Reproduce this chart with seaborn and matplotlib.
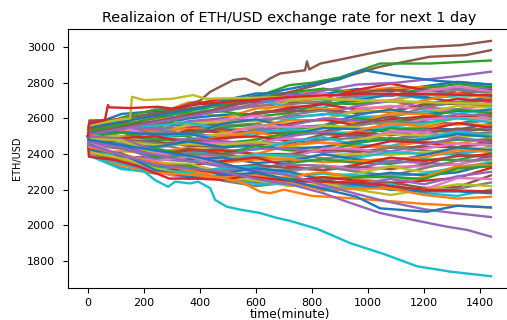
import matplotlib
matplotlib.use("Agg")
import matplotlib.pyplot as plt
import seaborn as sns
import pandas as pd

# Simulated ETH/USD paths over the next 1440 minutes
start_price = 2500
band_minutes = [0, 5, 120, 240, 360, 480, 600, 720, 840, 960, 1080, 1200,
                1320, 1439]

band_at_5 = [
    2560, 2590, 2540, 2575, 2520, 2585, 2500, 2550, 2530, 2570,
    2510, 2545, 2490, 2565, 2525, 2480, 2555, 2505, 2470, 2535,
    2515, 2460, 2545, 2495, 2520, 2450, 2530, 2485, 2505, 2440,
    2525, 2475, 2500, 2430, 2515, 2465, 2495, 2420, 2510, 2455,
    2490, 2410, 2480, 2445, 2500, 2400, 2470, 2435, 2485, 2395,
    2460, 2425, 2475, 2390, 2450, 2415, 2465, 2400, 2440, 2405,
    2455, 2392, 2430, 2398, 2420, 2385, 2445, 2395, 2410, 2390,
    2425, 2400,
]
band_at_120 = [
    2625, 2585, 2605, 2557, 2600, 2597, 2565, 2535, 2580, 2560,
    2565, 2597, 2495, 2577, 2497, 2565, 2527, 2547, 2460, 2552,
    2487, 2525, 2552, 2467, 2540, 2430, 2550, 2492, 2502, 2440,
    2522, 2447, 2520, 2490, 2457, 2477, 2432, 2475, 2470, 2457,
    2440, 2415, 2440, 2452, 2485, 2375, 2450, 2377, 2477, 2372,
    2445, 2367, 2432, 2355, 2440, 2402, 2392, 2375, 2365, 2397,
    2387, 2371, 2355, 2354, 2355, 2377, 2397, 2322, 2375, 2315,
    2402, 2337,
]
band_at_240 = [
    2640, 2620, 2650, 2600, 2610, 2630, 2590, 2570, 2620, 2580,
    2560, 2600, 2540, 2570, 2530, 2580, 2520, 2550, 2500, 2560,
    2490, 2530, 2510, 2480, 2540, 2470, 2500, 2520, 2460, 2490,
    2510, 2450, 2480, 2500, 2440, 2470, 2430, 2460, 2450, 2420,
    2440, 2410, 2430, 2400, 2420, 2390, 2410, 2380, 2400, 2370,
    2390, 2360, 2380, 2350, 2370, 2340, 2360, 2330, 2350, 2320,
    2340, 2310, 2330, 2300, 2320, 2310, 2300, 2290, 2320, 2300,
    2310, 2295,
]
band_at_360 = [
    2640, 2690, 2655, 2675, 2605, 2655, 2610, 2635, 2640, 2615,
    2600, 2570, 2625, 2565, 2585, 2550, 2560, 2540, 2570, 2575,
    2510, 2540, 2500, 2535, 2510, 2525, 2480, 2510, 2475, 2515,
    2515, 2455, 2480, 2465, 2490, 2445, 2465, 2420, 2455, 2405,
    2470, 2435, 2395, 2420, 2375, 2430, 2385, 2405, 2360, 2370,
    2370, 2385, 2385, 2335, 2360, 2300, 2385, 2310, 2345, 2295,
    2320, 2290, 2335, 2320, 2275, 2295, 2260, 2305, 2285, 2300,
    2270, 2285,
]
band_at_480 = [
    2700, 2690, 2680, 2710, 2650, 2670, 2660, 2640, 2610, 2690,
    2620, 2600, 2640, 2580, 2600, 2570, 2590, 2560, 2580, 2540,
    2570, 2530, 2550, 2520, 2500, 2540, 2510, 2490, 2520, 2480,
    2470, 2500, 2460, 2490, 2470, 2440, 2460, 2430, 2450, 2420,
    2440, 2410, 2400, 2420, 2390, 2400, 2380, 2390, 2370, 2360,
    2380, 2350, 2340, 2360, 2330, 2320, 2340, 2310, 2300, 2320,
    2290, 2300, 2280, 2290, 2270, 2260, 2280, 2250, 2270, 2260,
    2280, 2265,
]
band_at_600 = [
    2740, 2680, 2717, 2690, 2720, 2705, 2665, 2670, 2625, 2710,
    2625, 2655, 2610, 2625, 2590, 2635, 2615, 2570, 2585, 2540,
    2595, 2550, 2565, 2520, 2535, 2515, 2560, 2535, 2490, 2520,
    2460, 2525, 2480, 2500, 2460, 2455, 2460, 2470, 2470, 2425,
    2445, 2400, 2445, 2400, 2430, 2370, 2385, 2380, 2400, 2400,
    2350, 2370, 2315, 2380, 2325, 2340, 2295, 2315, 2280, 2330,
    2320, 2265, 2280, 2240, 2290, 2245, 2275, 2220, 2250, 2232,
    2295, 2280,
]
band_at_720 = [
    2740, 2720, 2745, 2700, 2730, 2690, 2710, 2680, 2700, 2660,
    2650, 2670, 2630, 2660, 2610, 2640, 2590, 2620, 2570, 2600,
    2550, 2590, 2540, 2570, 2560, 2520, 2550, 2530, 2500, 2540,
    2510, 2480, 2520, 2470, 2500, 2460, 2490, 2450, 2440, 2470,
    2430, 2450, 2420, 2400, 2430, 2390, 2380, 2400, 2370, 2390,
    2360, 2370, 2350, 2330, 2340, 2320, 2300, 2310, 2290, 2280,
    2300, 2270, 2260, 2250, 2240, 2250, 2230, 2240, 2220, 2235,
    2250, 2245,
]
band_at_840 = [
    2737, 2765, 2767, 2710, 2735, 2687, 2740, 2695, 2715, 2660,
    2680, 2650, 2685, 2680, 2620, 2645, 2590, 2645, 2595, 2625,
    2560, 2590, 2555, 2595, 2600, 2525, 2555, 2515, 2560, 2520,
    2545, 2480, 2515, 2480, 2525, 2510, 2460, 2480, 2430, 2495,
    2440, 2465, 2415, 2420, 2410, 2430, 2430, 2375, 2395, 2355,
    2400, 2355, 2370, 2310, 2335, 2310, 2335, 2330, 2270, 2290,
    2255, 2300, 2255, 2270, 2210, 2240, 2220, 2255, 2235, 2205,
    2250, 2195,
]
band_at_960 = [
    2765, 2750, 2740, 2760, 2720, 2745, 2700, 2730, 2690, 2710,
    2700, 2660, 2680, 2650, 2670, 2630, 2650, 2600, 2640, 2610,
    2620, 2580, 2600, 2560, 2590, 2570, 2540, 2560, 2550, 2520,
    2540, 2530, 2500, 2520, 2490, 2510, 2470, 2490, 2480, 2450,
    2470, 2440, 2460, 2430, 2420, 2410, 2430, 2390, 2400, 2380,
    2370, 2360, 2350, 2340, 2320, 2330, 2310, 2300, 2290, 2280,
    2270, 2260, 2270, 2250, 2230, 2220, 2240, 2210, 2200, 2215,
    2230, 2205,
]
band_at_1080 = [
    2752, 2772, 2725, 2795, 2727, 2762, 2700, 2732, 2697, 2740,
    2735, 2660, 2695, 2635, 2700, 2642, 2670, 2605, 2640, 2610,
    2650, 2627, 2580, 2595, 2560, 2610, 2557, 2585, 2530, 2552,
    2527, 2572, 2545, 2505, 2522, 2482, 2530, 2485, 2512, 2445,
    2480, 2440, 2490, 2472, 2415, 2435, 2400, 2440, 2395, 2410,
    2357, 2375, 2345, 2380, 2360, 2315, 2330, 2280, 2330, 2275,
    2295, 2240, 2270, 2235, 2260, 2240, 2200, 2210, 2170, 2232,
    2200, 2207,
]
band_at_1200 = [
    2780, 2775, 2770, 2760, 2755, 2740, 2750, 2725, 2735, 2710,
    2720, 2700, 2690, 2680, 2660, 2675, 2650, 2660, 2630, 2640,
    2620, 2625, 2600, 2610, 2590, 2580, 2595, 2570, 2560, 2575,
    2545, 2555, 2540, 2530, 2535, 2515, 2520, 2500, 2505, 2490,
    2480, 2470, 2460, 2465, 2450, 2440, 2430, 2420, 2410, 2400,
    2395, 2380, 2370, 2360, 2350, 2340, 2330, 2320, 2300, 2290,
    2280, 2270, 2260, 2250, 2230, 2210, 2200, 2190, 2200, 2180,
    2190, 2170,
]
band_at_1320 = [
    2805, 2768, 2792, 2740, 2765, 2734, 2780, 2758, 2715, 2729,
    2690, 2741, 2687, 2709, 2650, 2683, 2647, 2694, 2670, 2626,
    2642, 2601, 2650, 2606, 2622, 2569, 2602, 2566, 2602, 2601,
    2537, 2568, 2517, 2574, 2527, 2543, 2497, 2514, 2492, 2526,
    2512, 2459, 2480, 2438, 2492, 2439, 2460, 2406, 2427, 2398,
    2437, 2421, 2367, 2388, 2340, 2396, 2342, 2363, 2305, 2326,
    2297, 2333, 2320, 2266, 2275, 2215, 2265, 2205, 2230, 2165,
    2190, 2150,
]
band_at_1439 = [
    2790, 2782, 2775, 2770, 2765, 2758, 2750, 2742, 2735, 2728,
    2720, 2712, 2705, 2698, 2690, 2682, 2675, 2668, 2660, 2652,
    2645, 2638, 2630, 2622, 2615, 2608, 2600, 2592, 2585, 2578,
    2570, 2562, 2555, 2548, 2540, 2532, 2525, 2518, 2510, 2502,
    2495, 2488, 2480, 2472, 2465, 2458, 2450, 2442, 2435, 2427,
    2420, 2412, 2405, 2397, 2390, 2382, 2375, 2367, 2360, 2352,
    2345, 2337, 2330, 2322, 2300, 2280, 2260, 2240, 2220, 2200,
    2180, 2160,
]

# Paths that leave the main band
low_cyan_min = [0, 3, 60, 186, 239, 286, 311, 364, 393, 436, 454, 496, 550,
                614, 675, 721, 818, 936, 1054, 1175, 1293, 1439]
low_cyan_val = [2500, 2395, 2370, 2320, 2254, 2216, 2245, 2235, 2245, 2209,
                2142, 2104, 2086, 2069, 2041, 2025, 1980, 1900, 1840, 1770,
                1740, 1714]
low_red_min = [0, 3, 100, 190, 290, 380, 480, 560, 720, 960, 1200, 1439]
low_red_val = [2500, 2385, 2365, 2325, 2262, 2262, 2255, 2275, 2250, 2240,
               2200, 2190]
low_orange_min = [0, 3, 300, 550, 614, 650, 700, 800, 960, 1200, 1439]
low_orange_val = [2500, 2440, 2330, 2240, 2189, 2180, 2200, 2165, 2150, 2120,
                  2100]
low_purple_min = [0, 3, 240, 480, 600, 732, 840, 925, 1043, 1161, 1282, 1354,
                  1439]
low_purple_val = [2500, 2450, 2340, 2300, 2260, 2226, 2180, 2132, 2069, 2030,
                  1992, 1974, 1936]
low_purple2_min = [0, 3, 360, 720, 900, 1043, 1200, 1300, 1439]
low_purple2_val = [2500, 2470, 2360, 2280, 2200, 2142, 2090, 2070, 2046]
low_blue_min = [0, 3, 400, 700, 850, 960, 1043, 1211, 1320, 1439]
low_blue_val = [2500, 2480, 2380, 2260, 2200, 2160, 2095, 2076, 2110, 2100]

top_brown_min = [0, 3, 240, 400, 436, 518, 560, 614, 650, 686, 775, 782, 790,
                 830, 900, 1007, 1104, 1221, 1330, 1439]
top_brown_val = [2500, 2540, 2620, 2700, 2749, 2815, 2824, 2787, 2824, 2852,
                 2870, 2920, 2875, 2908, 2930, 2965, 2993, 3002, 3011, 3035]
top_brown2_min = [0, 3, 300, 600, 800, 1043, 1221, 1350, 1439]
top_brown2_val = [2500, 2520, 2600, 2700, 2780, 2890, 2946, 2955, 2983]
top_green_min = [0, 3, 300, 600, 720, 800, 900, 1043, 1221, 1439]
top_green_val = [2500, 2530, 2620, 2720, 2787, 2800, 2830, 2908, 2908, 2925]
top_purple_min = [0, 3, 400, 720, 960, 1100, 1300, 1439]
top_purple_val = [2500, 2510, 2620, 2720, 2790, 2800, 2834, 2862]
top_blue_min = [0, 3, 400, 700, 900, 982, 1100, 1250, 1439]
top_blue_val = [2500, 2550, 2660, 2760, 2820, 2871, 2840, 2810, 2790]
early_olive_min = [0, 3, 100, 150, 157, 200, 300, 375, 420, 720, 1000, 1439]
early_olive_val = [2500, 2560, 2590, 2600, 2721, 2703, 2710, 2731, 2710, 2720,
                   2700, 2680]
early_red_min = [0, 3, 60, 71, 75, 150, 250, 300, 400, 720, 1000, 1439]
early_red_val = [2500, 2570, 2590, 2675, 2662, 2658, 2665, 2655, 2680, 2720,
                 2740, 2730]

tab10 = sns.color_palette("tab10")

records = []
colors = {}
band_cols = [band_at_5, band_at_120, band_at_240, band_at_360, band_at_480,
             band_at_600, band_at_720, band_at_840, band_at_960, band_at_1080,
             band_at_1200, band_at_1320, band_at_1439]
for i in range(len(band_at_5)):
    name = f"band{i}"
    vals = [start_price] + [col[i] for col in band_cols]
    for m, v in zip(band_minutes, vals):
        records.append((name, m, v))
    colors[name] = tab10[i % 10]

extra = [
    ("low_cyan", low_cyan_min, low_cyan_val, 9),
    ("low_red", low_red_min, low_red_val, 3),
    ("low_orange", low_orange_min, low_orange_val, 1),
    ("low_purple", low_purple_min, low_purple_val, 4),
    ("low_purple2", low_purple2_min, low_purple2_val, 4),
    ("low_blue", low_blue_min, low_blue_val, 0),
    ("top_brown", top_brown_min, top_brown_val, 5),
    ("top_brown2", top_brown2_min, top_brown2_val, 5),
    ("top_green", top_green_min, top_green_val, 2),
    ("top_purple", top_purple_min, top_purple_val, 4),
    ("top_blue", top_blue_min, top_blue_val, 0),
    ("early_olive", early_olive_min, early_olive_val, 8),
    ("early_red", early_red_min, early_red_val, 3),
]
for name, mins, vals, ci in extra:
    for m, v in zip(mins, vals):
        records.append((name, m, v))
    colors[name] = tab10[ci]

df = pd.DataFrame(records, columns=["path", "minute", "rate"])
order = list(dict.fromkeys(df["path"]))

fig = plt.figure(figsize=(5.07, 3.2), dpi=100)
ax = fig.add_axes([0.134, 0.1, 0.874, 0.809])
sns.lineplot(data=df, x="minute", y="rate", hue="path", hue_order=order,
             palette=colors, estimator=None, legend=False, linewidth=1.7,
             ax=ax)

ax.set_xticks(range(0, 1401, 200))
ax.set_yticks(range(1800, 3001, 200))
ax.tick_params(labelsize=8)
ax.tick_params(axis="y", pad=6)
ax.set_xlabel("time(minute)", fontsize=8.8, labelpad=0)
ax.set_ylabel("ETH/USD", fontsize=7, labelpad=3)
ax.set_title("Realizaion of ETH/USD exchange rate for next 1 day",
             fontsize=10.4, pad=5)

fig.savefig("out.png", dpi=100)
